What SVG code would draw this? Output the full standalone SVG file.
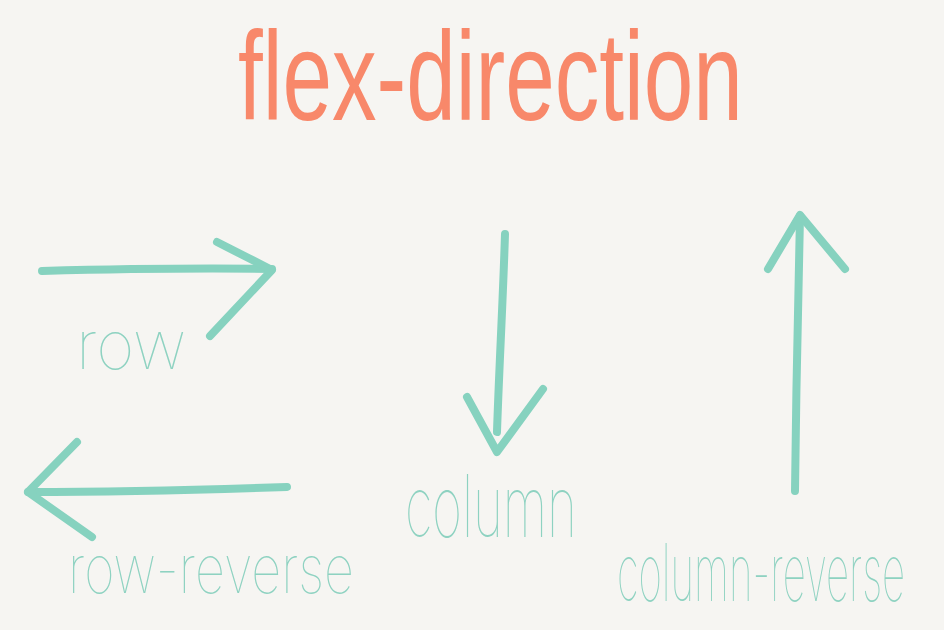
<svg xmlns="http://www.w3.org/2000/svg" width="944" height="630" viewBox="0 0 944 630">
  <style>
    .arrow { fill: none; stroke: #86D2BF; stroke-width: 8; stroke-linecap: round; stroke-linejoin: round; }
    .label { font-family: Inter, "Liberation Sans", sans-serif; font-weight: 100; fill: #8ED2C1; }
    .title { font-family: "Liberation Sans", Arial, sans-serif; fill: #F8886A; }
  </style>
  <rect x="0" y="0" width="944" height="630" fill="#F6F5F2"/>

  <g id="title">
    <text class="title" transform="translate(238,120) scale(0.71,1)" x="0" y="0" font-size="126" textLength="711" lengthAdjust="spacingAndGlyphs">flex-direction</text>
  </g>

  <g id="connectors">
    <g id="row-arrow">
      <path class="arrow" d="M42,271 C120,269 200,268 272,269"/>
      <path class="arrow" d="M217,242 L272,270 L210,336"/>
    </g>
    <g id="row-reverse-arrow">
      <path class="arrow" d="M287,487 C200,490 110,492 28,492"/>
      <path class="arrow" d="M77,442 L28,492 L92,537"/>
    </g>
    <g id="column-arrow">
      <path class="arrow" d="M505,234 C503,300 499,370 497,432"/>
      <path class="arrow" d="M467,397 L497,452 L543,389"/>
    </g>
    <g id="column-reverse-arrow">
      <path class="arrow" d="M795,491 C796,400 798,300 800,216"/>
      <path class="arrow" d="M768,269 L800,215 L845,269"/>
    </g>
  </g>

  <g id="row">
    <text class="label" transform="translate(76,369) scale(0.91,1)" x="0" y="0" font-size="68" textLength="121" lengthAdjust="spacingAndGlyphs">row</text>
  </g>
  <g id="row-reverse">
    <text class="label" transform="translate(68,593) scale(0.745,1)" x="0" y="0" font-size="68" textLength="384" lengthAdjust="spacingAndGlyphs">row-reverse</text>
  </g>
  <g id="column">
    <text class="label" transform="translate(405,537) scale(0.577,1)" x="0" y="0" font-size="86" textLength="298" lengthAdjust="spacingAndGlyphs">column</text>
  </g>
  <g id="column-reverse">
    <text class="label" transform="translate(617,601) scale(0.49,1)" x="0" y="0" font-size="80" textLength="588" lengthAdjust="spacingAndGlyphs">column-reverse</text>
  </g>
</svg>
